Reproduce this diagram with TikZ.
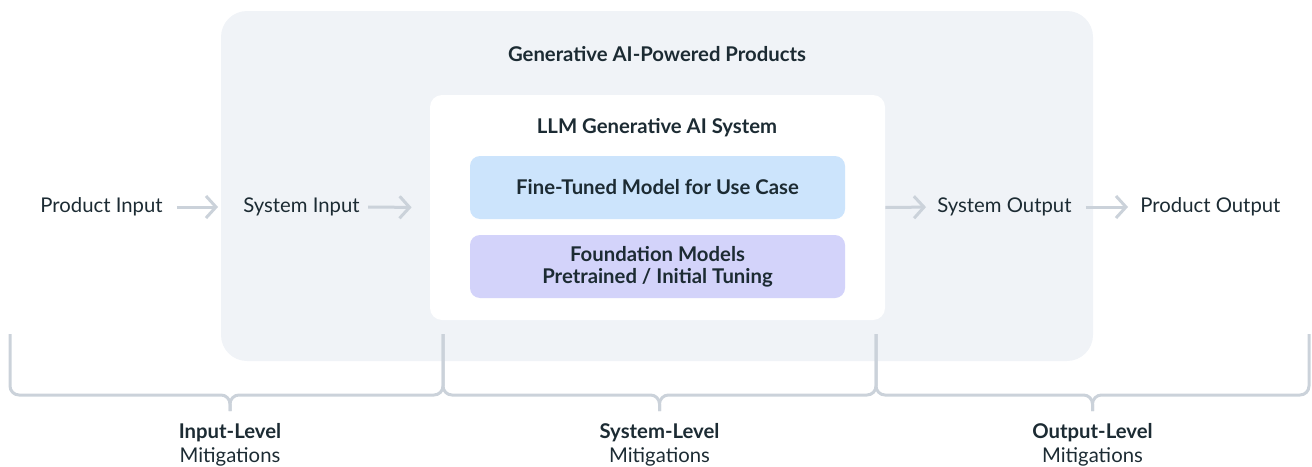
\documentclass[tikz,border=0pt]{standalone}
\usepackage{fontspec}
\setmainfont{Lato}
\usetikzlibrary{arrows.meta}
\definecolor{ink}{HTML}{1C2B33}
\definecolor{prodbg}{HTML}{F0F3F7}
\definecolor{tunebg}{HTML}{CCE4FC}
\definecolor{basebg}{HTML}{D3D3FA}
\definecolor{wire}{HTML}{CBD2DA}

\begin{document}
\begin{tikzpicture}[x=0.5pt,y=-0.5pt,
  every node/.style={text=ink,font=\fontsize{10.15}{11}\selectfont},
  arr/.style={-{Straight Barb[length=5pt,width=11pt]},line width=1.5pt,draw=wire},
  brace/.style={line width=1.5pt,draw=wire,rounded corners=4.5pt},
  modelbox/.style={rounded corners=5pt,minimum width=187.5pt,minimum height=31.5pt,align=center,font=\fontsize{10.15}{11}\selectfont\bfseries}]
\useasboundingbox (0,0) rectangle (1312,466);

% boxes
\node[fill=prodbg,rounded corners=13pt,minimum width=436pt,minimum height=175pt] (prod) at (657,186) {};
\node[font=\fontsize{10.15}{11}\selectfont\bfseries] (prodtitle) at (657,54) {Generative AI-Powered Products};
\node[fill=white,rounded corners=6pt,minimum width=227.5pt,minimum height=112.5pt] (llm) at (657.5,207.5) {};
\node[font=\fontsize{10.15}{11}\selectfont\bfseries] (llmtitle) at (657,128) {LLM Generative AI System};
\node[modelbox,fill=tunebg] (tune) at (657.5,187.5) {Fine-Tuned Model for Use Case};
\node[modelbox,fill=basebg] (base) at (657.5,266.5) {Foundation Models\\Pretrained / Initial Tuning};

% inputs and outputs
\node[anchor=west,inner sep=0] (pin) at (40,207) {Product Input};
\node[anchor=west,inner sep=0] (sin) at (243,207) {System Input};
\node[anchor=west,inner sep=0] (sout) at (937,207) {System Output};
\node[anchor=west,inner sep=0] (pout) at (1140,207) {Product Output};
\draw[arr,shorten <=7pt,shorten >=12.5pt] (pin.east) -- (sin.west);
\draw[arr,shorten <=4pt,shorten >=9pt] (sin.east) -- (llm.west);
\draw[arr,shorten >=5.5pt] (llm.east) -- (sout.west);
\draw[arr,shorten <=7pt,shorten >=6pt] (sout.east) -- (pout.west);

% mitigation braces
\coordinate (b0) at (10,334);
\coordinate (b1) at (443,334);
\coordinate (b2) at (876,334);
\coordinate (b3) at (1309,334);
\coordinate (t1) at (230,411);
\coordinate (t2) at (659.5,411);
\coordinate (t3) at (1092.5,411);
\draw[brace] (b0) |- (230,395) -- (t1);
\draw[brace] (b1) |- (230,395) -- (t1);
\draw[brace] (b1) |- (659.5,395) -- (t2);
\draw[brace] (b2) |- (659.5,395) -- (t2);
\draw[brace] (b2) |- (1092.5,395) -- (t3);
\draw[brace] (b3) |- (1092.5,395) -- (t3);
\node[align=center,font=\fontsize{10.15}{12}\selectfont] (inlvl) at (230,445) {\textbf{Input-Level}\\Mitigations};
\node[align=center,font=\fontsize{10.15}{12}\selectfont] (syslvl) at (659.5,445) {\textbf{System-Level}\\Mitigations};
\node[align=center,font=\fontsize{10.15}{12}\selectfont] (outlvl) at (1092.5,445) {\textbf{Output-Level}\\Mitigations};
\end{tikzpicture}
\end{document}
